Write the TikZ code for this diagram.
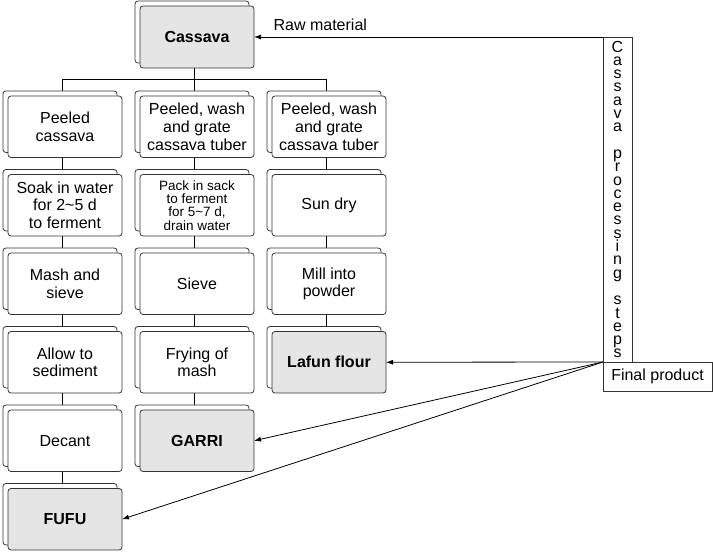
\documentclass[tikz,border=0pt]{standalone}
\usepackage{fontspec}
\setmainfont{Liberation Sans}
\usetikzlibrary{positioning}
\usetikzlibrary{shadows}
\usetikzlibrary{backgrounds}
\usetikzlibrary{arrows.meta}

\begin{document}
\begin{tikzpicture}[node distance=17pt and 18pt, line width=0.8pt,
    every node/.style={font=\fontsize{16pt}{17.7pt}\selectfont},
    stepbox/.style={draw=black!80, rounded corners=3pt, fill=white, align=center,
      minimum width=114pt, minimum height=61.5pt, inner sep=1pt, outer sep=0pt,
      general shadow={draw=black!80, fill=white, shadow xshift=-5pt, shadow yshift=5pt}},
    endbox/.style={stepbox, fill=gray!20, font=\fontsize{16pt}{17.7pt}\selectfont\bfseries},
    sidebox/.style={draw=black!80, inner sep=0pt, outer sep=0pt, align=center},
    arr/.style={draw=black, -{Latex[length=7pt,width=5pt]}}]
        \useasboundingbox (0,0) rectangle (713pt,-553pt);
        \node[endbox, minimum height=62pt] (cas) at (197pt,-37pt) {Cassava};
        % fufu
        \node[stepbox, below=28pt of cas] (a2) {Peeled, wash\\and grate\\cassava tuber};
        \node[stepbox, left=of a2] (a1) {Peeled\\cassava};
        \node[stepbox, right=of a2] (a3) {Peeled, wash\\and grate\\cassava tuber};
        \node[stepbox, below=of a1] (b1) {Soak in water\\for 2\textasciitilde5 d\\to ferment};
        \node[stepbox, below=of b1] (c1) {Mash and\\sieve};
        \node[stepbox, below=of c1] (d1) {Allow to\\sediment};
        \node[stepbox, below=of d1] (e1) {Decant};
        \node[endbox, below=of e1] (f1) {FUFU};
        % garri
        \node[stepbox, below=of a2, font=\fontsize{13.5pt}{13.3pt}\selectfont] (b2) {Pack in sack\\to ferment\\for 5\textasciitilde7 d,\\drain water};
        \node[stepbox, below=of b2] (c2) {Sieve};
        \node[stepbox, below=of c2] (d2) {Frying of\\mash};
        \node[endbox, below=of d2] (e2) {GARRI};
        % lafun
        \node[stepbox, below=of a3] (b3) {Sun dry};
        \node[stepbox, below=of b3] (c3) {Mill into\\powder};
        \node[endbox, below=of c3] (d3) {Lafun flour};
        % side legend
        \node[sidebox, minimum width=29pt, minimum height=325pt, anchor=north west,
            font=\fontsize{16pt}{13.3pt}\selectfont] (steps) at (603pt,-37pt)
            {C\\a\\s\\s\\a\\v\\a\\~\\p\\r\\o\\c\\e\\s\\s\\i\\n\\g\\~\\s\\t\\e\\p\\s};
        \node[sidebox, minimum width=109pt, minimum height=29pt, anchor=north west] (fin) at (steps.south west) {Final product};
        \draw[arr] (steps.north west) -- node[above=3pt, pos=0.81] {Raw material} (cas.east);
        \draw[arr] (fin.north west) -- (d3.east);
        \draw[arr] (fin.north west) -- (e2.east);
        \draw[arr] (fin.north west) -- (f1.east);
        \begin{scope}[on background layer, draw=black!80]
            \coordinate (hub) at ([xshift=-2.5pt,yshift=-11pt]cas.south);
            \draw ([xshift=-2.5pt]cas.south) -- (hub);
            \foreach \n in {a1,a2,a3}
                \draw (hub) -| ([xshift=-2.5pt]\n.north);
            \foreach \u/\v in {a1/b1,b1/c1,c1/d1,d1/e1,e1/f1,a2/b2,b2/c2,c2/d2,d2/e2,a3/b3,b3/c3,c3/d3}
                \draw ([xshift=-2.5pt]\u.south) -- ([xshift=-2.5pt]\v.north);
        \end{scope}
\end{tikzpicture}
\end{document}
